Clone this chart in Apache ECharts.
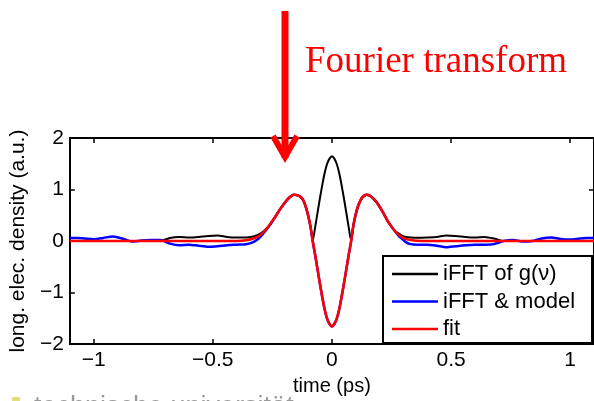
<!DOCTYPE html>
<html>
<head>
<meta charset="utf-8">
<script src="https://cdn.jsdelivr.net/npm/echarts@6/dist/echarts.min.js"></script>
<style>
  html, body { margin: 0; padding: 0; background: #fff; }
  #chart { width: 594px; height: 401px; }
</style>
</head>
<body>
<div id="chart"></div>
<script>
// time axis samples (ps)
const times = [
  -1.10, -1.07, -1.04, -1.00, -0.96, -0.92, -0.88, -0.84, -0.80, -0.76,
  -0.72, -0.68, -0.64, -0.60, -0.56, -0.52, -0.48, -0.44, -0.40, -0.36,
  -0.33, -0.31, -0.295, -0.28, -0.265, -0.25, -0.235, -0.22, -0.205, -0.19,
  -0.175, -0.16, -0.145, -0.13, -0.12, -0.11, -0.10, -0.09, -0.08, -0.07,
  -0.06, -0.05, -0.04, -0.03, -0.02, -0.01, 0, 0.01, 0.02, 0.03,
  0.04, 0.05, 0.06, 0.07, 0.08, 0.09, 0.10, 0.11, 0.12, 0.13,
  0.145, 0.16, 0.175, 0.19, 0.205, 0.22, 0.235, 0.25, 0.265, 0.28,
  0.295, 0.31, 0.33, 0.36, 0.40, 0.44, 0.48, 0.52, 0.56, 0.60,
  0.64, 0.68, 0.72, 0.76, 0.80, 0.84, 0.88, 0.92, 0.96, 1.00,
  1.04, 1.07, 1.10
];

// iFFT of g(nu): black trace
const ifftG = [
  0, 0, 0, 0, 0, 0, 0, 0, 0, 0,
  0, 0.06, 0.08, 0.07, 0.08, 0.10, 0.11, 0.08, 0.07, 0.07,
  0.09, 0.12, 0.16, 0.22, 0.29, 0.39, 0.49, 0.60, 0.70, 0.79,
  0.86, 0.90, 0.89, 0.85, 0.79, 0.67, 0.50, 0.28, 0.02, 0.28,
  0.56, 0.84, 1.10, 1.33, 1.50, 1.60, 1.645, 1.60, 1.50, 1.33,
  1.10, 0.84, 0.56, 0.28, 0.02, 0.30, 0.52, 0.68, 0.79, 0.86,
  0.90, 0.88, 0.82, 0.74, 0.63, 0.51, 0.38, 0.28, 0.19, 0.15,
  0.10, 0.08, 0.07, 0.065, 0.07, 0.08, 0.11, 0.10, 0.08, 0.07,
  0.08, 0.05, 0, 0, 0, 0, 0, 0, 0, 0,
  0, 0, 0
];

// iFFT & model: blue trace
const ifftModel = [
  0.06, 0.06, 0.05, 0.035, 0.06, 0.09, 0.05, -0.01, 0.01, 0.02,
  0.02, -0.05, -0.08, -0.07, -0.09, -0.11, -0.10, -0.08, -0.07, -0.06,
  -0.02, 0.04, 0.11, 0.19, 0.28, 0.38, 0.49, 0.60, 0.70, 0.79,
  0.86, 0.90, 0.89, 0.85, 0.79, 0.67, 0.50, 0.28, -0.02, -0.28,
  -0.56, -0.84, -1.10, -1.34, -1.51, -1.61, -1.66, -1.61, -1.51, -1.34,
  -1.10, -0.84, -0.56, -0.28, -0.02, 0.30, 0.52, 0.68, 0.79, 0.86,
  0.90, 0.88, 0.82, 0.74, 0.63, 0.51, 0.38, 0.28, 0.19, 0.10,
  0.04, -0.02, -0.06, -0.07, -0.07, -0.09, -0.12, -0.10, -0.08, -0.07,
  -0.07, -0.06, 0.00, 0.02, -0.01, 0.00, 0.05, 0.07, 0.04, 0.03,
  0.05, 0.06, 0.06
];

// fit: red trace
const fitCurve = [
  0, 0, 0, 0, 0, 0, 0, 0, 0, 0,
  0, 0, 0, 0, 0, 0, 0, 0, 0, 0.015,
  0.05, 0.09, 0.14, 0.21, 0.29, 0.39, 0.49, 0.60, 0.70, 0.79,
  0.86, 0.90, 0.89, 0.85, 0.79, 0.67, 0.50, 0.28, -0.02, -0.28,
  -0.56, -0.84, -1.10, -1.34, -1.51, -1.61, -1.66, -1.61, -1.51, -1.34,
  -1.10, -0.84, -0.56, -0.28, -0.02, 0.30, 0.52, 0.68, 0.79, 0.86,
  0.90, 0.88, 0.82, 0.74, 0.63, 0.51, 0.38, 0.28, 0.19, 0.12,
  0.07, 0.04, 0.02, 0.005, 0, 0, 0, 0, 0, 0,
  0, 0, 0, 0, 0, 0, 0, 0, 0, 0,
  0, 0, 0
];

const seriesNames = ['iFFT of g(\u03bd)', 'iFFT & model', 'fit'];
const xTicks = [-1, -0.5, 0, 0.5, 1];
const yTicks = [-2, -1, 0, 1, 2];

const SANS = '"Liberation Sans", Arial, sans-serif';
const minusFmt = v => String(v).replace('-', '\u2212');
const pairs = vals => times.map((t, i) => [t, vals[i]]);

const chart = echarts.init(document.getElementById('chart'), null, { renderer: 'canvas' });

const axisLine = { show: true, onZero: false, lineStyle: { color: '#000', width: 2 } };
const tickStyle = { color: '#000', width: 1.5 };

chart.setOption({
  animation: false,
  backgroundColor: '#fff',
  grid: { left: 68, top: 138, width: 529, height: 211, containLabel: false },
  xAxis: [
    {
      type: 'value', min: -1.1, max: 1.1, position: 'bottom',
      axisLine,
      axisTick: { show: true, inside: true, length: 5, lineStyle: tickStyle, customValues: xTicks },
      axisLabel: { customValues: xTicks, formatter: minusFmt, color: '#000', fontSize: 21, fontFamily: SANS, margin: 6 },
      splitLine: { show: false },
      name: 'time (ps)', nameLocation: 'middle', nameGap: 25,
      nameTextStyle: { color: '#000', fontSize: 20, fontFamily: SANS }
    },
    {
      type: 'value', min: -1.1, max: 1.1, position: 'top',
      axisLine,
      axisTick: { show: true, inside: true, length: 5, lineStyle: tickStyle, customValues: xTicks },
      axisLabel: { show: false },
      splitLine: { show: false }
    }
  ],
  yAxis: [
    {
      type: 'value', min: -2, max: 2, interval: 1, position: 'left',
      axisLine,
      axisTick: { show: true, inside: true, length: 5, lineStyle: tickStyle, customValues: yTicks },
      axisLabel: { customValues: yTicks, formatter: minusFmt, color: '#000', fontSize: 21, fontFamily: SANS, margin: 6 },
      splitLine: { show: false },
      name: 'long. elec. density (a.u.)', nameLocation: 'middle', nameGap: 32,
      nameTextStyle: { color: '#000', fontSize: 21, fontFamily: SANS }
    },
    {
      type: 'value', min: -2, max: 2, interval: 1, position: 'right',
      axisLine,
      axisTick: { show: true, inside: true, length: 5, lineStyle: tickStyle, customValues: yTicks },
      axisLabel: { show: false },
      splitLine: { show: false }
    }
  ],
  legend: {
    orient: 'vertical', left: 383, top: 256,
    padding: [7, 17, 3, 9], itemGap: 5.5,
    icon: 'rect', itemWidth: 46, itemHeight: 2.5,
    backgroundColor: '#fff', borderColor: '#000', borderWidth: 2, borderRadius: 0,
    textStyle: { fontSize: 22, fontFamily: SANS, color: '#000', lineHeight: 22 },
    data: seriesNames
  },
  series: [
    {
      name: seriesNames[0], type: 'line', data: pairs(ifftG), symbol: 'none', smooth: 0.25,
      lineStyle: { color: '#000000', width: 2 }, itemStyle: { color: '#000000' }, z: 2
    },
    {
      name: seriesNames[1], type: 'line', data: pairs(ifftModel), symbol: 'none', smooth: 0.25,
      lineStyle: { color: '#0000ff', width: 2.5 }, itemStyle: { color: '#0000ff' }, z: 3
    },
    {
      name: seriesNames[2], type: 'line', data: pairs(fitCurve), symbol: 'none', smooth: 0.25,
      lineStyle: { color: '#ff0000', width: 2.5 }, itemStyle: { color: '#ff0000' }, z: 4
    }
  ],
  graphic: [
    // downward arrow
    { type: 'line', shape: { x1: 285, y1: 11, x2: 285, y2: 158 },
      style: { stroke: '#ff0000', lineWidth: 7 }, z: 10 },
    { type: 'polyline', shape: { points: [[273, 136], [285, 157], [297, 136]] },
      style: { stroke: '#ff0000', lineWidth: 6, fill: null, lineJoin: 'miter', miterLimit: 10 }, z: 10 },
    { type: 'text', x: 305, y: 43.5,
      style: { text: 'Fourier transform', fill: '#ff0000', fontSize: 37,
               fontFamily: '"Liberation Serif", "Times New Roman", serif', verticalAlign: 'top' }, z: 10 },
    // footer
    { type: 'rect', shape: { x: 12, y: 397, width: 8, height: 5 },
      style: { fill: '#dde07c' }, z: 10 },
    { type: 'text', x: 34, y: 394,
      style: { text: 'technische universität', fill: '#9a9a9a', fontSize: 27,
               fontFamily: SANS, verticalAlign: 'top' }, z: 10 }
  ]
});
</script>
</body>
</html>
